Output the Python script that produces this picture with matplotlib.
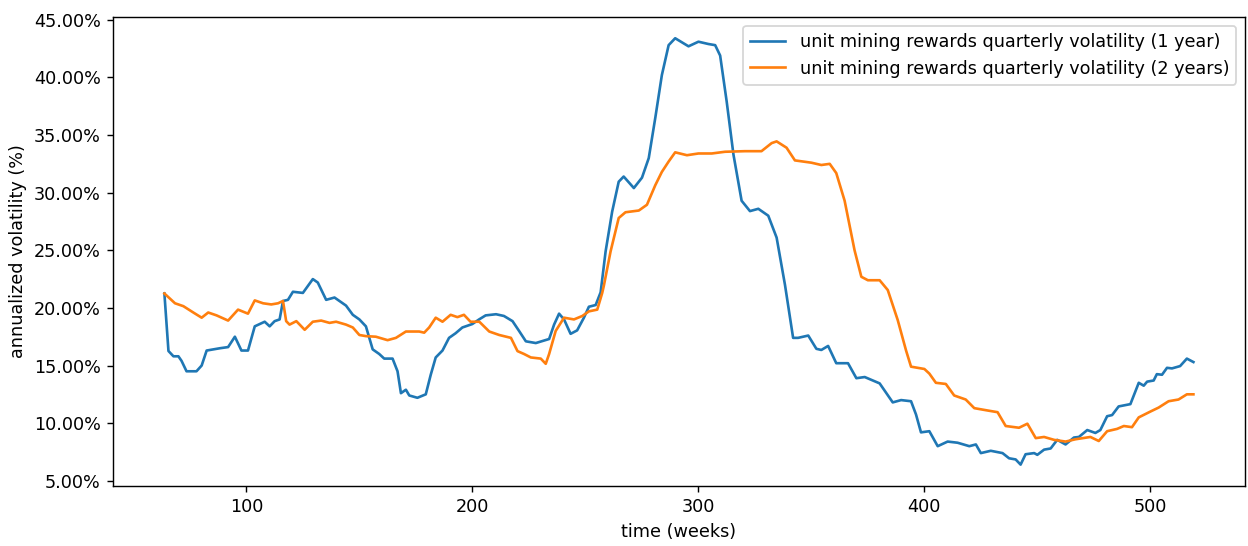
import matplotlib
matplotlib.use("Agg")
import matplotlib.pyplot as plt
from matplotlib.ticker import PercentFormatter

weeks_1y = [63.7, 65.5, 67.7, 69.9, 71.3, 73.5, 77.9, 80.2, 82.4, 85.3, 88.3, 91.9, 94.9, 97.8,
            100.7, 103.7, 108.1, 110.3, 112.5, 114.7, 116.2, 118.4, 120.6, 125.0, 127.2, 129.4,
            131.6, 135.3, 139.0, 141.2, 144.1, 147.1, 150.0, 152.9, 155.9, 158.8, 161.0, 164.7,
            166.9, 168.4, 170.6, 172.1, 175.7, 179.4, 181.6, 183.8, 186.8, 189.7, 192.6, 195.6,
            200.0, 203.0, 205.9, 210.5, 214.0, 217.8, 220.7, 223.7, 228.1, 234.0, 236.2, 238.4,
            240.6, 243.5, 246.4, 249.4, 251.6, 254.6, 256.8, 259.0, 261.9, 264.8, 267.0, 271.5,
            275.1, 278.1, 281.0, 283.9, 286.9, 289.8, 295.7, 300.1, 304.5, 307.5, 309.7, 312.6,
            315.6, 319.2, 322.9, 326.6, 331.0, 334.7, 338.4, 342.0, 344.2, 348.7, 352.3, 354.5,
            357.5, 361.1, 366.3, 370.0, 373.7, 380.3, 382.6, 386.1, 389.8, 394.2, 396.4, 398.6,
            402.3, 406.0, 410.4, 414.8, 420.0, 422.9, 425.1, 429.5, 434.7, 437.6, 440.5, 442.7,
            444.9, 448.7, 450.1, 453.1, 456.0, 458.9, 462.6, 466.3, 468.5, 472.2, 475.8, 478.0,
            481.0, 483.2, 486.1, 491.3, 492.8, 495.0, 497.2, 498.7, 501.6, 503.0, 505.3, 507.5,
            509.7, 513.3, 516.3, 519.2]
vol_1y = [21.25, 16.26, 15.8, 15.8, 15.4, 14.5, 14.5, 15.0, 16.3, 16.4, 16.5, 16.6, 17.5, 16.3,
          16.3, 18.4, 18.8, 18.4, 18.85, 19.0, 20.6, 20.7, 21.4, 21.3, 21.9, 22.5,
          22.2, 20.7, 20.9, 20.6, 20.2, 19.4, 19.0, 18.4, 16.4, 16.0, 15.6, 15.6,
          14.5, 12.6, 12.9, 12.4, 12.2, 12.5, 14.2, 15.7, 16.3, 17.4, 17.8, 18.3,
          18.6, 19.0, 19.35, 19.45, 19.3, 18.85, 18.0, 17.1, 16.95, 17.3, 18.55, 19.5,
          19.0, 17.75, 18.05, 19.15, 20.1, 20.25, 21.35, 24.9, 28.35, 30.95, 31.4, 30.4,
          31.3, 33.0, 36.5, 40.2, 42.8, 43.4, 42.7, 43.1, 42.9, 42.8, 41.9, 37.9,
          33.3, 29.3, 28.4, 28.6, 28.0, 26.1, 22.0, 17.4, 17.4, 17.6, 16.45, 16.35,
          16.7, 15.2, 15.2, 13.9, 14.0, 13.45, 12.8, 11.8, 12.0, 11.9, 10.75, 9.2,
          9.3, 8.0, 8.4, 8.3, 8.0, 8.15, 7.4, 7.6, 7.4, 6.95, 6.85, 6.4,
          7.3, 7.4, 7.25, 7.7, 7.8, 8.55, 8.15, 8.75, 8.8, 9.4, 9.15, 9.4,
          10.6, 10.7, 11.45, 11.65, 12.4, 13.5, 13.25, 13.6, 13.7, 14.25, 14.2, 14.8,
          14.75, 14.95, 15.6, 15.3]

weeks_2y = [63.7, 68.4, 72.1, 76.5, 80.2, 83.1, 86.8, 91.9, 96.3, 100.7, 103.7, 107.4, 111.0,
            114.0, 116.2, 117.6, 119.1, 122.1, 125.8, 129.4, 133.1, 136.8, 139.7, 144.1, 147.1,
            150.0, 152.9, 157.3, 162.5, 166.2, 170.6, 176.5, 178.7, 180.9, 183.8, 186.8, 190.4,
            193.4, 196.3, 199.2, 203.1, 207.5, 211.9, 217.1, 220.0, 222.9, 225.9, 230.3, 232.5,
            234.0, 236.9, 240.6, 245.0, 248.7, 251.6, 255.3, 257.5, 258.2, 261.2, 264.8, 267.8,
            273.7, 277.3, 281.0, 283.9, 286.9, 289.8, 295.0, 300.1, 306.0, 311.9, 320.7, 328.0,
            332.5, 334.7, 339.1, 342.8, 350.1, 354.5, 358.2, 361.1, 364.8, 369.2, 372.2, 375.1,
            380.3, 383.9, 388.3, 392.0, 394.2, 400.1, 402.3, 405.2, 409.6, 413.3, 418.4, 422.2,
            428.0, 432.5, 436.1, 442.0, 445.7, 449.4, 453.1, 457.5, 462.6, 467.0, 473.6, 477.3,
            481.0, 485.4, 488.4, 492.0, 495.0, 500.1, 503.8, 508.2, 512.6, 516.3, 519.2]
vol_2y = [21.25, 20.4, 20.15, 19.6, 19.15, 19.6, 19.35, 18.9, 19.85, 19.5, 20.65, 20.4, 20.3,
          20.4, 20.6, 18.85, 18.55, 18.85, 18.1, 18.8, 18.9, 18.7, 18.8, 18.55, 18.3,
          17.65, 17.55, 17.5, 17.2, 17.4, 17.95, 17.95, 17.85, 18.3, 19.15, 18.8, 19.4,
          19.2, 19.4, 18.8, 18.8, 17.95, 17.65, 17.4, 16.25, 16.0, 15.7, 15.6, 15.15,
          16.0, 18.0, 19.15, 19.0, 19.3, 19.7, 19.85, 21.3, 21.9, 24.9, 27.8, 28.3,
          28.45, 28.95, 30.65, 31.8, 32.7, 33.5, 33.25, 33.4, 33.4, 33.55, 33.6, 33.6,
          34.3, 34.45, 33.9, 32.8, 32.6, 32.4, 32.5, 31.7, 29.3, 25.0, 22.7, 22.4,
          22.4, 21.55, 18.95, 16.3, 14.9, 14.7, 14.3, 13.5, 13.4, 12.4, 12.05, 11.3,
          11.1, 10.95, 9.75, 9.6, 9.95, 8.7, 8.8, 8.55, 8.4, 8.6, 8.8, 8.45,
          9.3, 9.5, 9.75, 9.65, 10.5, 11.0, 11.35, 11.9, 12.05, 12.5, 12.5]

label_1y = "unit mining rewards quarterly volatility (1 year)"
label_2y = "unit mining rewards quarterly volatility (2 years)"

DPI = 127
fig = plt.figure(figsize=(1248 / DPI, 546 / DPI), dpi=DPI)
ax = fig.add_axes([0.0905, 0.110, 0.907, 0.859])
ax.plot(weeks_1y, vol_1y, color="#1f77b4", linewidth=1.5, label=label_1y)
ax.plot(weeks_2y, vol_2y, color="#ff7f0e", linewidth=1.5, label=label_2y)
ax.yaxis.set_major_formatter(PercentFormatter(xmax=100, decimals=2))
ax.set_xlabel("time (weeks)")
ax.set_ylabel("annualized volatility (%)")
ax.legend(loc="upper right")
fig.savefig("out.png", dpi=DPI)
